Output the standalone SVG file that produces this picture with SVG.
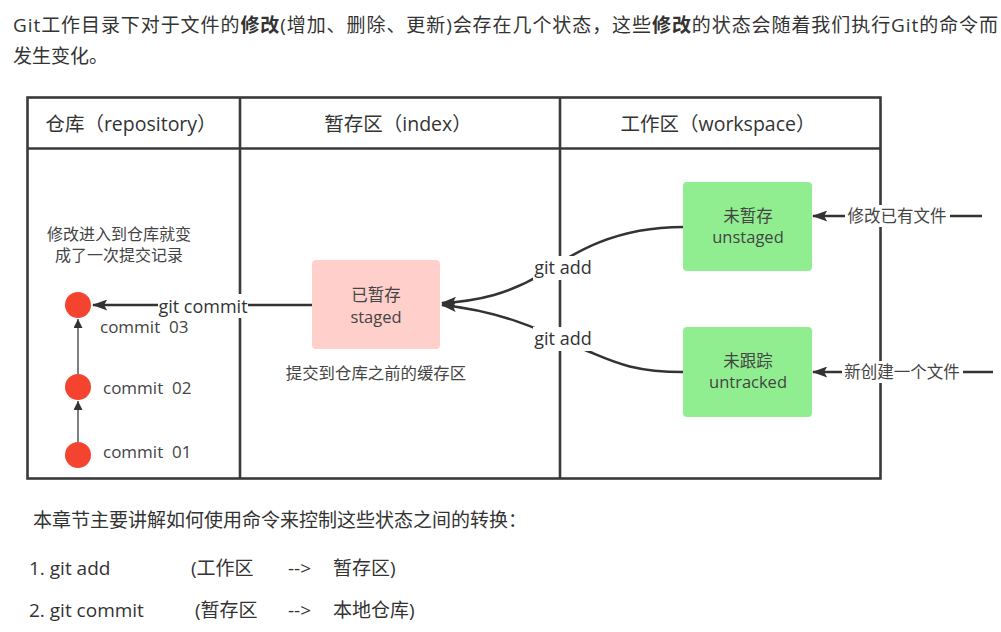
<svg xmlns="http://www.w3.org/2000/svg" width="1001" height="632" viewBox="0 0 1001 632">
<defs>
<style>
.t{font-family:"Open Sans","Noto Sans CJK SC",sans-serif;fill:#333}
.d{font-family:"Open Sans","Noto Sans CJK SC",sans-serif;fill:#444}
.grid{stroke:#3a3a3a;stroke-width:2.6;fill:none}
.conn{stroke:#333;stroke-width:2.5;fill:none}
.thin{stroke:#555;stroke-width:1.5;fill:none}
.bg{fill:#fff}
.commit{fill:#f4432f}
</style>
<marker id="arr" viewBox="0 0 14 10" refX="13" refY="5" markerWidth="16" markerHeight="11" markerUnits="userSpaceOnUse" orient="auto">
<path d="M0,0 L14,5 L0,10 L3,5 z" fill="#333"/>
</marker>
<marker id="arrS" viewBox="0 0 10 10" refX="10" refY="5" markerWidth="11" markerHeight="9" markerUnits="userSpaceOnUse" orient="auto">
<path d="M0,0 L10,5 L0,10 z" fill="#333"/>
</marker>
</defs>
<rect width="1001" height="632" fill="#fff"/>

<g id="intro">
<text class="t" x="13" y="32" font-size="19" textLength="985" lengthAdjust="spacing">Git工作目录下对于文件的<tspan font-weight="700">修改</tspan>(增加、删除、更新)会存在几个状态，这些<tspan font-weight="700">修改</tspan>的状态会随着我们执行Git的命令而</text>
<text class="t" x="13" y="63" font-size="19">发生变化。</text>
</g>

<g id="table">
<rect class="grid" x="27.5" y="97.5" width="853" height="381"/>
<line class="grid" x1="27.5" y1="148.5" x2="880.5" y2="148.5"/>
<line class="grid" x1="240" y1="97.5" x2="240" y2="478.5"/>
<line class="grid" x1="560" y1="97.5" x2="560" y2="478.5"/>
<text class="t" x="131" y="131" font-size="19.5" text-anchor="middle">仓库（repository）</text>
<text class="t" x="398" y="131" font-size="19.5" text-anchor="middle">暂存区（index）</text>
<text class="t" x="718" y="131" font-size="19.5" text-anchor="middle">工作区（workspace）</text>
</g>

<g id="connectors">
<line class="thin" x1="78" y1="442" x2="78" y2="401" marker-end="url(#arrS)"/>
<line class="thin" x1="78" y1="374" x2="78" y2="319" marker-end="url(#arrS)"/>
<line class="conn" x1="312" y1="305" x2="93" y2="305" marker-end="url(#arr)"/>
<path class="conn" d="M683,227 C615,227 575,252 540,275 C510,293 480,301 442,303" marker-end="url(#arr)"/>
<path class="conn" d="M683,372 C630,372 610,360 585,350 C555,337 510,312 442,305" marker-end="url(#arr)"/>
<line class="conn" x1="982" y1="216" x2="813" y2="216" marker-end="url(#arr)"/>
<line class="conn" x1="993" y1="372" x2="813" y2="372" marker-end="url(#arr)"/>
<rect class="bg" x="158" y="294" width="90" height="24"/>
<text class="t" x="203" y="313" font-size="18" text-anchor="middle">git commit</text>
<rect class="bg" x="533" y="256" width="60" height="24"/>
<text class="t" x="563" y="274" font-size="18" text-anchor="middle">git add</text>
<rect class="bg" x="533" y="327" width="60" height="24"/>
<text class="t" x="563" y="345" font-size="18" text-anchor="middle">git add</text>
<rect class="bg" x="845" y="205" width="105" height="22"/>
<text class="d" x="897" y="222" font-size="16.5" text-anchor="middle">修改已有文件</text>
<rect class="bg" x="842" y="361" width="121" height="22"/>
<text class="d" x="902" y="378" font-size="16.5" text-anchor="middle">新创建一个文件</text>
</g>

<g id="repo-note">
<text class="d" x="119" y="240" font-size="16" text-anchor="middle">修改进入到仓库就变</text>
<text class="d" x="119" y="261" font-size="16" text-anchor="middle">成了一次提交记录</text>
</g>

<g id="commit03">
<circle class="commit" cx="78" cy="305" r="13"/>
<text class="d" x="100" y="333" font-size="17" xml:space="preserve">commit  03</text>
</g>
<g id="commit02">
<circle class="commit" cx="78" cy="387" r="13"/>
<text class="d" x="103" y="394" font-size="17" xml:space="preserve">commit  02</text>
</g>
<g id="commit01">
<circle class="commit" cx="78" cy="455" r="13"/>
<text class="d" x="103" y="458" font-size="17" xml:space="preserve">commit  01</text>
</g>

<g id="staged">
<rect x="312" y="260" width="128" height="89" rx="4" fill="#ffd0cb"/>
<text class="d" x="376" y="301" font-size="16.5" text-anchor="middle">已暂存</text>
<text class="d" x="376" y="323" font-size="16.5" text-anchor="middle">staged</text>
<text class="d" x="376" y="379" font-size="16.4" text-anchor="middle">提交到仓库之前的缓存区</text>
</g>

<g id="unstaged">
<rect x="683" y="182" width="129" height="89" rx="4" fill="#90ee90"/>
<text class="d" x="748" y="222" font-size="16.5" text-anchor="middle">未暂存</text>
<text class="d" x="748" y="243" font-size="16.5" text-anchor="middle">unstaged</text>
</g>

<g id="untracked">
<rect x="683" y="327" width="129" height="90" rx="4" fill="#90ee90"/>
<text class="d" x="748" y="367" font-size="16.5" text-anchor="middle">未跟踪</text>
<text class="d" x="748" y="388" font-size="16.5" text-anchor="middle">untracked</text>
</g>

<g id="summary">
<text class="t" x="33" y="527" font-size="19">本章节主要讲解如何使用命令来控制这些状态之间的转换：</text>
<text class="t" x="29" y="575" font-size="19">1. git add</text>
<text class="t" x="191" y="575" font-size="19">(工作区</text>
<text class="t" x="288" y="575" font-size="19">--&gt;</text>
<text class="t" x="333" y="575" font-size="19">暂存区)</text>
<text class="t" x="29" y="617" font-size="19">2. git commit</text>
<text class="t" x="195" y="617" font-size="19">(暂存区</text>
<text class="t" x="288" y="617" font-size="19">--&gt;</text>
<text class="t" x="333" y="617" font-size="19">本地仓库)</text>
</g>
</svg>
